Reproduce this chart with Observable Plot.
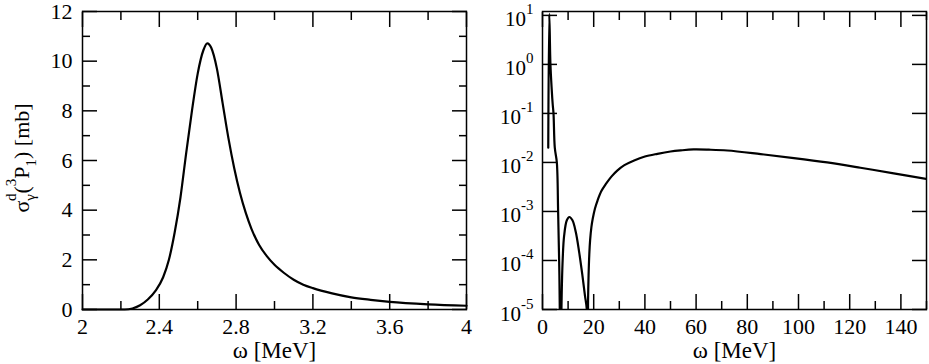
<!DOCTYPE html>
<html><head><meta charset="utf-8">
<script src="https://cdn.jsdelivr.net/npm/d3@7"></script>
<script src="https://cdn.jsdelivr.net/npm/@observablehq/plot@0.6"></script>
<style>
body{margin:0;background:#fff;}
#wrap{display:flex;width:929px;height:364px;overflow:hidden;background:#fff;}
#wrap svg{flex:none;overflow:visible;}
</style></head><body><div id="wrap"></div>
<script>
// ---- data: left panel (linear) ----
const leftOmega = [2.0, 2.22, 2.26, 2.30, 2.34, 2.38, 2.42, 2.45, 2.48, 2.51, 2.54, 2.57, 2.60, 2.63, 2.65, 2.67, 2.70, 2.73, 2.76, 2.79, 2.82, 2.85, 2.88, 2.92, 2.96, 3.00, 3.05, 3.10, 3.15, 3.2, 3.3, 3.4, 3.5, 3.6, 3.8, 4.0];
const leftSigma = [0, 0, 0.04, 0.17, 0.40, 0.75, 1.3, 2.0, 3.1, 4.5, 6.3, 8.0, 9.5, 10.45, 10.72, 10.55, 9.7, 8.3, 6.9, 5.7, 4.7, 3.9, 3.25, 2.6, 2.15, 1.8, 1.47, 1.2, 1.0, 0.86, 0.65, 0.49, 0.39, 0.31, 0.21, 0.15];
const leftXTicks = [2, 2.4, 2.8, 3.2, 3.6, 4];
const leftXMinor = [2.2, 2.6, 3.0, 3.4, 3.8];
const leftYTicks = [0, 2, 4, 6, 8, 10, 12];
const leftYMinor = [1, 3, 5, 7, 9, 11];

// ---- data: right panel (log) ----
const rightOmega = [2.25, 2.65, 3.1, 3.6, 4.0, 4.3, 4.8, 5.6, 6.1, 6.5, 6.75, 6.95, 7.05, 7.4, 7.9, 8.45, 9.5, 10.5, 11.7, 13.0, 14.3, 15.6, 16.6, 17.3, 17.45, 17.6, 17.8, 18.0, 18.3, 18.6, 19.1, 19.6, 20.5, 21.5, 23.0, 24.7, 27.0, 29.3, 32.0, 35.8, 40.0, 44.9, 50.0, 54.0, 59.0, 65.0, 72.2, 85.2, 98.2, 111.2, 124.2, 137.2, 150];
const rightSigma = [0.02, 10.7, 1.0, 0.31, 0.15, 0.1, 0.02, 0.01, 1e-3, 1e-4, 1e-5, 1e-8, 1e-8, 1e-5, 1.1e-4, 3.2e-4, 6.6e-4, 7.7e-4, 6.6e-4, 3.8e-4, 1.5e-4, 4.9e-5, 1.9e-5, 1e-5, 1e-8, 1e-8, 1.5e-5, 5e-5, 1.4e-4, 2.6e-4, 4.8e-4, 7e-4, 1.15e-3, 1.67e-3, 2.6e-3, 3.6e-3, 5.2e-3, 6.9e-3, 8.8e-3, 0.011, 0.0132, 0.015, 0.0167, 0.0176, 0.0184, 0.0182, 0.0175, 0.0148, 0.0123, 0.0100, 0.0078, 0.0060, 0.0046];
const rightXTicks = [0, 20, 40, 60, 80, 100, 120, 140];
const rightXMinor = [10, 30, 50, 70, 90, 110, 130, 150];
const rightYTicks = [1e1, 1e0, 1e-1, 1e-2, 1e-3, 1e-4, 1e-5];

const xLabel = "ω [MeV]";
const yLabelParts = ["σ", "γ", "d", "(", "3", "P", "1", ") [mb]"];

const FONT = "Liberation Serif";
const none = () => "";

function frameAxes(xMaj, xMin, yMaj, yMin, xFmt, yFmt, yPad, yFont) {
  const m = [];
  const common = {label: null, strokeWidth: 1.5};
  m.push(Plot.axisX(xMaj, {...common, anchor: "bottom", tickSize: -15, tickPadding: 24, tickFormat: xFmt, fontSize: 22, fontFamily: FONT}));
  m.push(Plot.axisX(xMaj, {...common, anchor: "top", tickSize: -15, tickFormat: none}));
  if (xMin) {
    m.push(Plot.axisX(xMin, {...common, anchor: "bottom", tickSize: -8, tickFormat: none}));
    m.push(Plot.axisX(xMin, {...common, anchor: "top", tickSize: -8, tickFormat: none}));
  }
  m.push(Plot.axisY(yMaj, {...common, anchor: "left", tickSize: -15, tickPadding: yPad, tickFormat: yFmt, fontSize: yFont, fontFamily: FONT}));
  m.push(Plot.axisY(yMaj, {...common, anchor: "right", tickSize: -15, tickFormat: none}));
  if (yMin) {
    m.push(Plot.axisY(yMin, {...common, anchor: "left", tickSize: -8, tickFormat: none}));
    m.push(Plot.axisY(yMin, {...common, anchor: "right", tickSize: -8, tickFormat: none}));
  }
  return m;
}

const left = Plot.plot({
  width: 470, height: 364,
  marginLeft: 82, marginRight: 4, marginTop: 11, marginBottom: 55,
  style: {background: "transparent", overflow: "visible"},
  x: {domain: [2, 4]},
  y: {domain: [0, 12]},
  marks: [
    ...frameAxes(leftXTicks, leftXMinor, leftYTicks, leftYMinor, d => String(d), d => String(d), 25, 22),
    Plot.line(leftOmega, {x: leftOmega, y: leftSigma, stroke: "black", strokeWidth: 2.2, curve: "monotone-x"}),
    Plot.frame({stroke: "black", strokeWidth: 1.5}),
    Plot.text([xLabel], {frameAnchor: "bottom", text: d => d, dy: 41, lineAnchor: "middle", fontSize: 23, fontFamily: FONT})
  ]
});

const right = Plot.plot({
  width: 459, height: 364,
  marginLeft: 72, marginRight: 3, marginTop: 11, marginBottom: 55,
  style: {background: "transparent", overflow: "visible"},
  x: {domain: [0, 150]},
  y: {type: "log", domain: [1e-5, 12]},
  marks: [
    ...frameAxes(rightXTicks, rightXMinor, rightYTicks, null, d => String(d), d => "10^" + Math.round(Math.log10(d)), 24, 21),
    Plot.line(rightOmega, {x: rightOmega, y: rightSigma, stroke: "black", strokeWidth: 2.2, curve: "catmull-rom", clip: true}),
    Plot.frame({stroke: "black", strokeWidth: 1.5}),
    Plot.text([xLabel], {frameAnchor: "bottom", text: d => d, dy: 41, lineAnchor: "middle", fontSize: 23, fontFamily: FONT})
  ]
});

const wrap = document.getElementById("wrap");
wrap.appendChild(left);
wrap.appendChild(right);

// superscript exponents on the log tick labels
d3.select(right).selectAll('g[aria-label="y-axis tick label"] text').each(function() {
  const t = this.textContent;
  if (!t || t.indexOf("^") < 0) return;
  const e = t.split("^")[1];
  const s = d3.select(this);
  s.text("10").attr("y", 11).attr("dy", null);
  s.append("tspan").attr("dy", -12).attr("font-size", 15).text(e);
});

// rotated y label with sub/superscripts
const lab = d3.select(left).append("text")
  .attr("transform", "translate(29,158) rotate(-90)")
  .attr("text-anchor", "middle").attr("font-size", 22).attr("font-family", FONT).attr("fill", "black");
const sub = (t, dx, dy, size) => lab.append("tspan").attr("dx", dx).attr("dy", dy).attr("font-size", size).text(t);
sub(yLabelParts[0], 0, 0, 22);
sub(yLabelParts[1], 0, 6, 15);
sub(yLabelParts[2], -7, -19, 15);
sub(yLabelParts[3], 0, 13, 22);
sub(yLabelParts[4], 0, -13, 15);
sub(yLabelParts[5], 0, 13, 22);
sub(yLabelParts[6], 0, 7, 15);
sub(yLabelParts[7], 0, -7, 22);
</script>
</body></html>
